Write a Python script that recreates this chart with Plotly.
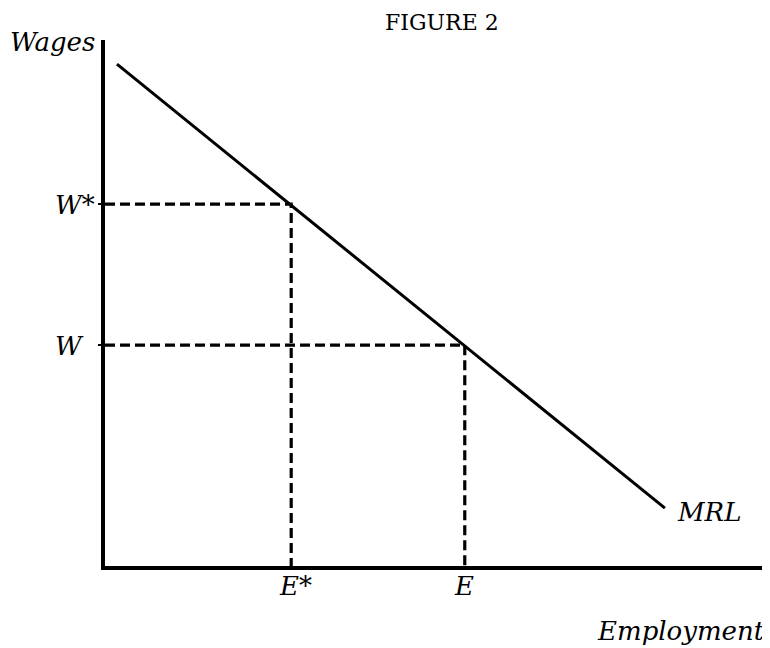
import plotly.graph_objects as go

# MRL curve end points (axis units 0-10)
mrl_x = [0.18, 8.42]
mrl_y = [9.54, 1.10]

# wage / employment levels
w_star, w = 6.88, 4.20
e_star, e = 2.80, 5.41

serif = "DejaVu Serif"

fig = go.Figure()

fig.add_trace(go.Scatter(x=mrl_x, y=mrl_y, mode="lines",
                         line=dict(color="black", width=3)))

# dashed guides from axes to the curve
for ex, wy in [(e_star, w_star), (e, w)]:
    fig.add_trace(go.Scatter(x=[0, ex, ex], y=[wy, wy, 0], mode="lines",
                             line=dict(color="black", width=3.2, dash="10px,5px")))

# page body has an 8px margin, so the figure is shifted by that
fig.update_layout(
    width=762, height=640,
    margin=dict(l=97, r=0, t=32, b=82),
    plot_bgcolor="white", paper_bgcolor="white",
    showlegend=False,
    xaxis=dict(range=[0, 10], showline=True, linecolor="black", linewidth=3.5,
               showgrid=False, zeroline=False, showticklabels=False, ticks=""),
    yaxis=dict(range=[0, 10], showline=True, linecolor="black", linewidth=3.5,
               showgrid=False, zeroline=False, showticklabels=False,
               ticks="outside", tickvals=[w_star, w], ticklen=3, tickwidth=2, tickcolor="black"),
)

lab = dict(family=serif, size=26, color="black")
px_x = 665  # plot width in px, used for paper offsets

fig.add_annotation(text="FIGURE 2", xref="paper", yref="paper", x=(442 - 105) / px_x, y=1,
                   yshift=18, borderpad=0, showarrow=False,
                   font=dict(family=serif, size=22, color="black"),
                   xanchor="center", yanchor="middle")
fig.add_annotation(text="<i>Wages</i>", xref="paper", yref="paper", x=-97 / px_x, y=1,
                   yshift=-2, showarrow=False, font=lab, xanchor="left", yanchor="middle")
for txt, yv in [("<i>W*</i>", w_star), ("<i>W</i>", w)]:
    fig.add_annotation(text=txt, xref="paper", yref="y", x=-(105 - 53) / px_x, y=yv,
                       yshift=-1, showarrow=False, font=lab, xanchor="left", yanchor="middle")
for txt, xv, dx in [("<i>E*</i>", e_star, 4), ("<i>E</i>", e, -1)]:
    fig.add_annotation(text=txt, xref="x", yref="paper", x=xv, y=0, yshift=-20, xshift=dx,
                       showarrow=False, font=lab, xanchor="center", yanchor="middle")
fig.add_annotation(text="<i>MRL</i>", xref="x", yref="y", x=mrl_x[1], y=mrl_y[1],
                   xshift=10, yshift=-4, showarrow=False, font=lab, xanchor="left", yanchor="middle")
fig.add_annotation(text="<i>Employment</i>", xref="paper", yref="paper", x=(767 - 105) / px_x, y=0,
                   yshift=-65, showarrow=False, font=lab, xanchor="right", yanchor="middle")

fig.write_html("out.html")
